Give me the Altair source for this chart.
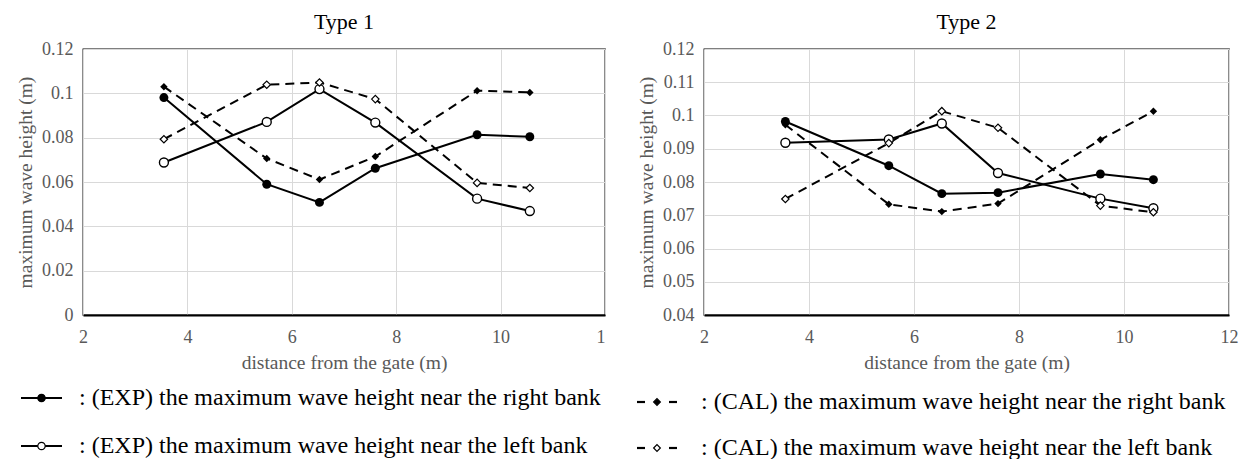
import altair as alt
import pandas as pd

FONT = "Liberation Serif"
GREY = "#595959"

x_pos = [3.55, 5.52, 6.53, 7.6, 9.55, 10.56]

# Type 1
t1_exp_right = [0.0981, 0.0590, 0.0508, 0.0662, 0.0813, 0.0804]
t1_exp_left = [0.0688, 0.0871, 0.1019, 0.0868, 0.0525, 0.0469]
t1_cal_right = [0.1030, 0.0706, 0.0611, 0.0715, 0.1012, 0.1004]
t1_cal_left = [0.0793, 0.1039, 0.1049, 0.0974, 0.0596, 0.0573]

# Type 2
t2_exp_right = [0.0982, 0.0849, 0.0765, 0.0768, 0.0824, 0.0807]
t2_exp_left = [0.0918, 0.0928, 0.0976, 0.0827, 0.0750, 0.0721]
t2_cal_right = [0.0972, 0.0733, 0.0711, 0.0735, 0.0927, 0.1013]
t2_cal_left = [0.0749, 0.0917, 0.1013, 0.0963, 0.0729, 0.0709]

x_ticks = [2, 4, 6, 8, 10, 12]
y1_ticks = [0, 0.02, 0.04, 0.06, 0.08, 0.1, 0.12]
y2_ticks = [0.04, 0.05, 0.06, 0.07, 0.08, 0.09, 0.1, 0.11, 0.12]

series_names = ["EXP right", "EXP left", "CAL right", "CAL left"]

legend_left = [
    ": (EXP) the maximum wave height near the right bank",
    ": (EXP) the maximum wave height near the left bank",
]
legend_right = [
    ": (CAL) the maximum wave height near the right bank",
    ": (CAL) the maximum wave height near the left bank",
]

H = 266


def make_df(vals):
    rows = []
    for name, ys in zip(series_names, vals):
        for x, y in zip(x_pos, ys):
            rows.append({"x": x, "y": y, "series": name})
    return pd.DataFrame(rows)


def panel(vals, ydom, yticks, title, clip_last, width):
    df = make_df(vals)
    label_expr = "datum.value == 12 ? '1' : datum.label" if clip_last else "datum.label"
    align = {"condition": {"test": "datum.value == 12", "value": "right"}, "value": "center"} if clip_last else "center"
    xenc = alt.X(
        "x:Q",
        scale=alt.Scale(domain=[2, 12], nice=False, zero=False),
        axis=alt.Axis(
            values=x_ticks, title="distance from the gate (m)", labelExpr=label_expr,
            grid=True, gridColor="#d9d9d9", ticks=False, domainColor="black",
            domainWidth=2, labelPadding=13, titlePadding=7, labelAlign=align,
        ),
    )
    yenc = alt.Y(
        "y:Q",
        scale=alt.Scale(domain=ydom, nice=False, zero=False),
        axis=alt.Axis(
            values=yticks, title="maximum wave height (m)",
            labelExpr="format(datum.value, '.2~f')",
            grid=True, gridColor="#d9d9d9", ticks=False, domain=False,
            labelPadding=10, titlePadding=6,
        ),
    )
    base = alt.Chart(df).encode(x=xenc, y=yenc, detail="series:N")
    exp_lines = base.transform_filter("indexof(datum.series, 'EXP') == 0").mark_line(
        color="black", strokeWidth=2)
    cal_lines = base.transform_filter("indexof(datum.series, 'CAL') == 0").mark_line(
        color="black", strokeWidth=2, strokeDash=[9, 6])
    circ_f = base.transform_filter("datum.series == 'EXP right'").mark_point(
        shape="circle", filled=True, fill="black", color="black", size=80, opacity=1)
    circ_o = base.transform_filter("datum.series == 'EXP left'").mark_point(
        shape="circle", filled=True, fill="white", stroke="black", strokeWidth=1.4, size=80, opacity=1)
    dia_f = base.transform_filter("datum.series == 'CAL right'").mark_point(
        shape="diamond", filled=True, fill="black", color="black", size=55, opacity=1)
    dia_o = base.transform_filter("datum.series == 'CAL left'").mark_point(
        shape="diamond", filled=True, fill="white", stroke="black", strokeWidth=1.2, size=55, opacity=1)
    return alt.layer(exp_lines, cal_lines, circ_f, circ_o, dia_f, dia_o).properties(
        width=width, height=H,
        title=alt.TitleParams(title, fontSize=22, font=FONT, fontWeight="normal", color="black", offset=6),
    )


def legend_layers(texts, dashed, row_y, sym_x0, sym_x1, text_x):
    layers = []
    one = pd.DataFrame({"t": [0]})
    mid = (sym_x0 + sym_x1) / 2
    for i, (txt, y) in enumerate(zip(texts, row_y)):
        if dashed:
            for a, b in [(sym_x0, sym_x0 + 8), (sym_x1 - 8, sym_x1)]:
                layers.append(alt.Chart(one).mark_rule(color="black", strokeWidth=2.2).encode(
                    x=alt.value(a), x2=alt.value(b), y=alt.value(y)))
        else:
            layers.append(alt.Chart(one).mark_rule(color="black", strokeWidth=2.2).encode(
                x=alt.value(sym_x0), x2=alt.value(sym_x1), y=alt.value(y)))
        shape = "diamond" if dashed else "circle"
        size = 45 if dashed else 55
        fill = "black" if i == 0 else "white"
        layers.append(alt.Chart(one).mark_point(
            shape=shape, filled=True, fill=fill, stroke="black", strokeWidth=1.2, size=size, opacity=1
        ).encode(x=alt.value(mid), y=alt.value(y)))
        layers.append(alt.Chart(one).mark_text(
            text=txt, align="left", baseline="middle", font=FONT, fontSize=24, color="black"
        ).encode(x=alt.value(text_x), y=alt.value(y)))
    return layers


left = panel([t1_exp_right, t1_exp_left, t1_cal_right, t1_cal_left], [0, 0.12], y1_ticks, "Type 1", True, 522)
right = panel([t2_exp_right, t2_exp_left, t2_cal_right, t2_cal_left], [0.04, 0.12], y2_ticks, "Type 2", False, 525)

left = alt.layer(left, *legend_layers(legend_left, False, [349, 397], -62, -21, -4))
right = alt.layer(right, *legend_layers(legend_right, True, [353, 399], -67, -27, -3))

chart = alt.hconcat(left, right, spacing=99, bounds="flush").properties(
    padding={"left": 14, "top": 10, "right": 5, "bottom": 0}
).configure_view(stroke="black", strokeWidth=1.3).configure_axis(
    labelFont=FONT, titleFont=FONT, labelFontSize=18, titleFontSize=19.5,
    labelColor=GREY, titleColor=GREY, titleFontWeight="normal",
).configure_title(anchor="middle")

chart.save("out.html", embed_options={"renderer": "svg", "actions": False})
